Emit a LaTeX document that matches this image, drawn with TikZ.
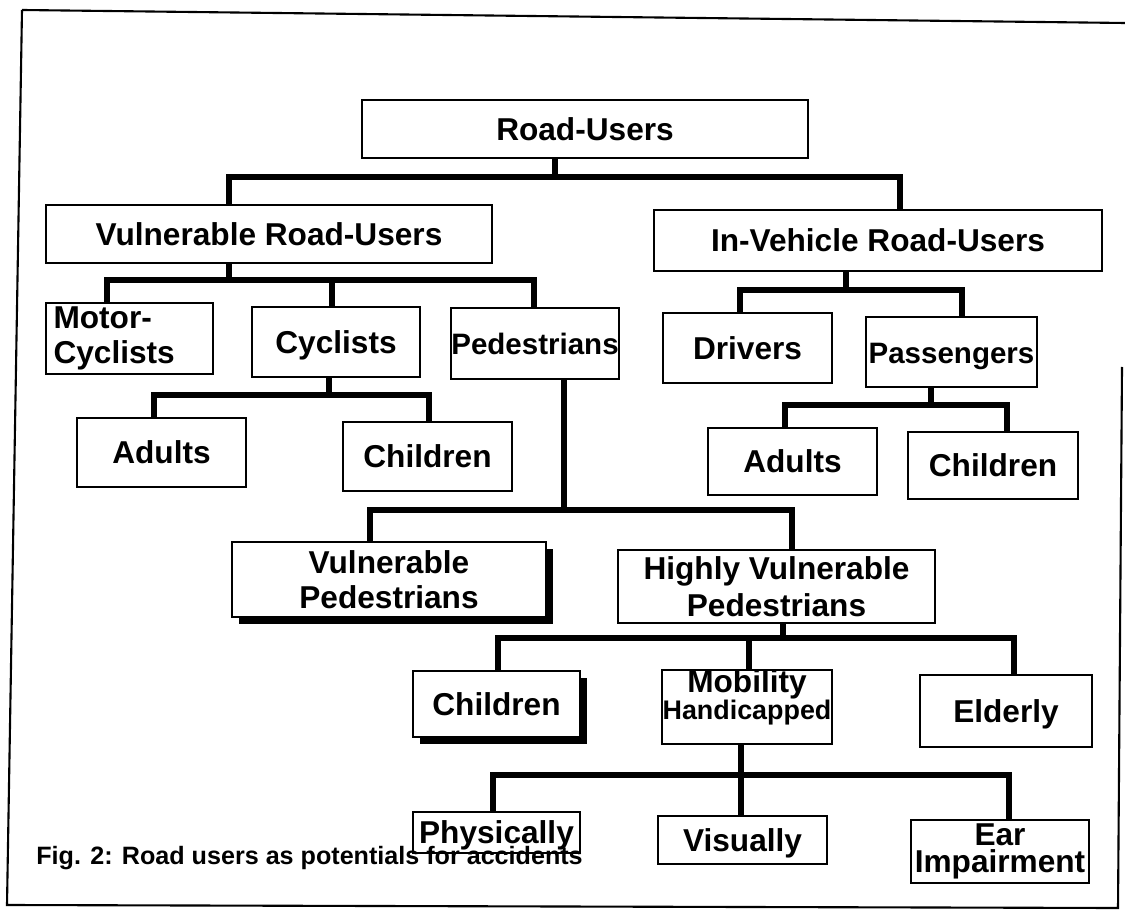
\documentclass[tikz,border=0pt]{standalone}
\usepackage{fontspec}
\setmainfont{Liberation Sans}
\usetikzlibrary{calc}
\usetikzlibrary{shadows}

\tikzset{
	box/.style={draw, line width=1pt, inner sep=0pt, align=center, font=\bfseries\fontsize{18}{20}\selectfont},
	one/.style={text height=12.9pt, text depth=0pt},
	wh/.style 2 args={minimum width=#1*0.02cm, minimum height=#2*0.02cm},
	tight/.style={font=\bfseries\fontsize{16.8}{20}\selectfont},
	heavy/.style={fill=white, drop shadow={shadow xshift=3.8pt, shadow yshift=-3.8pt, fill=black, opacity=1}},
	link/.style={line width=3pt},
	frame/.style={line width=1.2pt},
}

\begin{document}
\begin{tikzpicture}[x=0.02cm, y=-0.02cm]
		\useasboundingbox (0,0) rectangle (1125,911);
		\draw[frame] (22,10) -- (1125,23);
		\draw[frame] (22,10) -- (7,905) -- (1118,908) -- (1122,367);
		
		\node[box, one, wh={446}{58}] (ru) at (585,129) {Road-Users};
		\node[box, one, wh={446}{58}] (vru) at (269,234) {Vulnerable Road-Users};
		\node[box, one, wh={448}{61}] (ivru) at (878,240.5) {In-Vehicle Road-Users};
		
		\node[box, wh={167}{71}, text width=152*0.02cm, align=left] (mc) at (129.5,338.5) {Motor-\\Cyclists};
		\node[box, one, wh={168}{70}] (cyc) at (336,342) {Cyclists};
		\node[box, one, tight, wh={168}{71}] (ped) at (535,343.5) {Pedestrians};
		\node[box, one, wh={169}{69}] (ad1) at (161.5,452.5) {Adults};
		\node[box, one, wh={169}{69}] (ch1) at (427.5,456.5) {Children};
		
		\node[box, one, wh={169}{70}] (drv) at (747.5,348) {Drivers};
		\node[box, one, tight, wh={171}{70}] (pas) at (951.5,352) {Passengers};
		\node[box, one, wh={169}{67}] (ad2) at (792.5,461.5) {Adults};
		\node[box, one, wh={170}{67}] (ch2) at (993,465.5) {Children};
		
		\node[box, heavy, wh={314}{75}] (vp) at (389,579.5) {Vulnerable\\Pedestrians};
		\node[box, wh={317}{73}] (hvp) at (776.5,586.5) {Highly Vulnerable\\[1pt]Pedestrians};
		
		\node[box, one, heavy, wh={167}{66}] (ch3) at (496.5,704) {Children};
		\node[box, wh={170}{70}, text depth=14pt] (mh) at (747,707) {{\fontsize{18}{20}\selectfont Mobility}\\[-5pt]{\fontsize{15.3}{20}\selectfont Handicapped}};
		\node[box, one, wh={172}{72}] (eld) at (1006,711) {Elderly};
		
		\node[box, one, wh={167}{41}] (phy) at (496.5,832.5) {Physically};
		\node[box, one, wh={169}{48}] (vis) at (742.5,840) {Visually};
		\node[box, wh={178}{63}] (ear) at (1000,851.5) {Ear\\[-5pt]Impairment};
		
		\node[anchor=base west, inner sep=0pt, font=\bfseries\fontsize{14.3}{16}\selectfont] (cap) at (36,864) {Fig. 2: Road users as potentials for accidents};
		
		\coordinate (j0) at (555,177);
		\draw[link] (ru.south -| j0) -- (j0);
		\draw[link] (vru.north -| 229,0) |- (j0) -| (ivru.north -| 900,0);
		
		\coordinate (j1) at (229,280);
		\draw[link] (vru.south -| j1) -- (j1);
		\draw[link] (mc.north -| 107,0) |- (j1) -| (ped.north -| 534,0);
		\draw[link] (j1 -| 332,0) -- (cyc.north -| 332,0);
		
		\coordinate (j2) at (329,395);
		\draw[link] (cyc.south -| j2) -- (j2);
		\draw[link] (ad1.north -| 154,0) |- (j2) -| (ch1.north -| 429,0);
		
		\coordinate (j3) at (846,290);
		\draw[link] (ivru.south -| j3) -- (j3);
		\draw[link] (drv.north -| 740,0) |- (j3) -| (pas.north -| 962,0);
		
		\coordinate (j4) at (931,405);
		\draw[link] (pas.south -| j4) -- (j4);
		\draw[link] (ad2.north -| 785,0) |- (j4) -| (ch2.north -| 1007,0);
		
		\coordinate (j5) at (564,510);
		\draw[link] (ped.south -| j5) -- (j5);
		\draw[link] (vp.north -| 370,0) |- (j5) -| (hvp.north -| 792,0);
		
		\coordinate (j6) at (783,638);
		\draw[link] (hvp.south -| j6) -- (j6);
		\draw[link] (ch3.north -| 498,0) |- (j6) -| (eld.north -| 1014,0);
		\draw[link] (j6 -| 749,0) -- (mh.north -| 749,0);
		
		\coordinate (j7) at (741,775);
		\draw[link] (mh.south -| j7) -- (j7) -- (vis.north -| j7);
		\draw[link] (phy.north -| 493,0) |- (j7) -| (ear.north -| 1009,0);
\end{tikzpicture}
\end{document}
